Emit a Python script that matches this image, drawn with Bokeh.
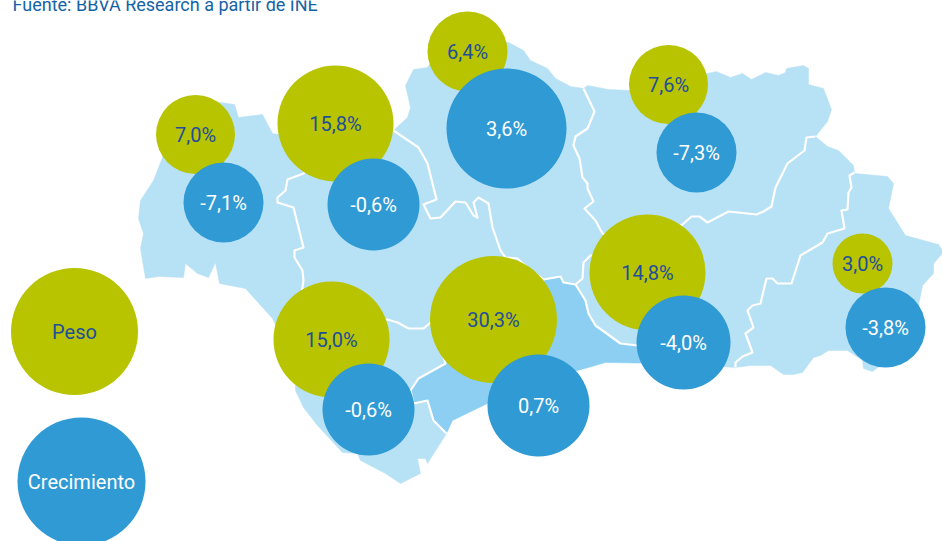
from bokeh.plotting import figure
from bokeh.models import Range1d
from bokeh.core.properties import value
from bokeh.embed import file_html
from bokeh.resources import INLINE

FONT = "Roboto"
SOURCE = "Fuente: BBVA Research a partir de INE"

# Bubble values
peso_labels = ["7,0%", "15,8%", "6,4%", "7,6%", "14,8%", "3,0%", "15,0%", "30,3%", "Peso"]
peso_x = [195, 335, 467, 668, 647, 862, 331, 493, 74]
peso_y = [134, 123, 51, 84, 272, 263, 339, 319, 331]
peso_r = [39.5, 58, 40, 39.5, 58, 30, 58, 63.5, 63.5]

crec_labels = ["-7,1%", "-0,6%", "3,6%", "-7,3%", "-4,0%", "-3,8%", "-0,6%", "0,7%", "Crecimiento"]
crec_x = [223, 373, 506, 696, 683, 885, 368, 538, 81]
crec_y = [202, 204, 128, 152, 342, 327, 409, 405, 481]
crec_r = [40, 46, 60, 40, 47, 40, 46, 51, 64]

# Shared borders between provinces
huelva_sevilla = [(312,120),(310,165),(303,173),(287,179),(285,190),(277,197),(277,202),(293,207),(303,247),(294,250),(294,257),(302,270),(303,280),(300,300),(295,345)]
sevilla_cordoba = [(393,130),(418,147),(427,163),(436,199),(423,204),(430,218),(440,217),(455,201),(465,202),(473,215),(477,217),(473,202),(478,197),(488,203),(492,227),(500,250),(505,257),(517,258),(530,270),(543,279),(560,276),(563,282),(575,284)]
sevilla_cadiz = [(330,325),(387,319),(397,322),(408,328),(423,328),(430,322),(440,345)]
cadiz_malaga = [(440,345),(445,363),(418,378),(410,390),(413,403),(427,400),(433,420),(446,433)]
cordoba_granada = [(575,284),(582,278),(583,262),(590,255),(610,250),(625,240)]
cordoba_jaen = [(583,88),(594,111),(587,128),(575,136),(573,145),(579,158),(582,177),(587,183),(587,188),(593,201),(584,208),(595,220),(602,233),(625,240)]
jaen_granada = [(625,240),(660,235),(682,224),(691,216),(699,216),(707,222),(728,211),(756,214),(763,211),(771,206),(775,187),(787,163),(804,150),(806,137),(815,136)]
granada_almeria = [(854,172),(849,175),(851,187),(848,192),(847,209),(841,210),(844,228),(827,233),(822,242),(800,255),(791,283),(777,283),(772,278),(766,278),(760,303),(752,305),(747,310),(753,327),(745,333),(752,352),(742,356),(735,362),(735,367)]
malaga_granada = [(575,284),(585,300),(588,313),(595,325),(620,343),(637,345),(660,348),(665,363)]

# Coasts and outer edges
huelva_outer = [(295,345),(282,340),(272,318),(245,288),(219,283),(215,262),(208,277),(197,273),(185,263),(183,277),(158,276),(145,278),(140,248),(143,233),(138,218),(140,200),(153,180),(162,157),(170,110),(220,102),(234,104),(238,117),(262,114),(272,133),(278,134),(312,120)]
sevilla_top = [(312,120),(393,130)]
sevilla_coast = [(295,345),(290,360),(330,325)]
cordoba_outer = [(393,130),(407,117),(410,107),(405,85),(413,69),(427,67),(450,30),(508,42),(523,50),(530,60),(547,68),(555,78),(570,86),(583,88)]
jaen_outer = [(583,88),(587,85),(608,89),(630,90),(707,73),(716,71),(730,77),(742,73),(751,79),(765,72),(778,75),(785,72),(786,68),(803,65),(808,68),(808,84),(823,88),(831,109),(827,121),(815,136)]
cadiz_coast = [(446,433),(427,463),(425,458),(417,458),(420,473),(400,483),(385,473),(360,460),(357,453),(342,452),(317,425),(303,407),(295,390),(295,345)]
malaga_coast = [(446,433),(452,420),(487,403),(540,390),(570,372),(588,367),(605,362),(665,363)]
granada_outer = [(815,136),(827,146),(838,150),(853,165),(854,172)]
granada_coast = [(735,367),(665,363)]
almeria_outer = [(854,172),(855,173),(887,176),(893,183),(888,208),(905,235),(938,244),(942,250),(942,253),(933,263),(933,273),(922,285),(917,310),(900,350),(872,371),(863,368),(862,360),(847,350),(828,350),(820,355),(813,357),(802,372),(793,374),(783,374),(770,365),(750,365),(735,367)]

huelva = huelva_sevilla + huelva_outer
sevilla = sevilla_top + sevilla_cordoba + [(470,345)] + sevilla_cadiz[::-1] + sevilla_coast[::-1] + huelva_sevilla[::-1]
cordoba = cordoba_outer + cordoba_jaen + cordoba_granada[::-1] + sevilla_cordoba[::-1]
jaen = jaen_outer + jaen_granada[::-1] + cordoba_jaen[::-1]
granada = cordoba_granada + jaen_granada + granada_outer + granada_almeria + granada_coast + malaga_granada[::-1]
almeria = almeria_outer + granada_almeria[::-1]
cadiz = sevilla_cadiz + cadiz_malaga + cadiz_coast + sevilla_coast
malaga = cadiz_malaga[::-1] + [(470,345)] + sevilla_cordoba[-4:] + malaga_granada + malaga_coast[::-1]

def xs(pts):
    return [q[0] for q in pts]

def ys(pts):
    return [q[1] for q in pts]

p = figure(width=942, height=541, output_backend="svg", toolbar_location=None,
           x_range=Range1d(0, 942), y_range=Range1d(541, 0), min_border=0,
           outline_line_color=None, background_fill_color="white", border_fill_color="white")
p.axis.visible = False
p.grid.visible = False

light = [huelva, sevilla, cordoba, jaen, granada, almeria, cadiz]
p.patches([xs(a) for a in light], [ys(a) for a in light], fill_color="#B7E1F5", line_color="#B7E1F5", line_width=0.5)
p.patch(xs(malaga), ys(malaga), fill_color="#8CCFF2", line_color="#8CCFF2", line_width=0.5)

borders = [huelva_sevilla[1:], sevilla_cordoba, sevilla_cadiz, cadiz_malaga, cordoba_granada, cordoba_jaen, jaen_granada, granada_almeria, malaga_granada]
p.multi_line([xs(b) for b in borders], [ys(b) for b in borders], line_color="white", line_width=2.2, line_join="round")

p.circle(peso_x, peso_y, radius=peso_r, fill_color="#B8C400", line_color=None)
p.circle(crec_x, crec_y, radius=crec_r, fill_color="#2F9AD4", line_color=None)

p.text(peso_x, peso_y, text=peso_labels, text_font=value(FONT), text_font_size="20px",
       text_color="#1F4E9C", text_align="center", text_baseline="middle")
p.text(crec_x, crec_y, text=crec_labels, text_font=value(FONT), text_font_size="20px",
       text_color="white", text_align="center", text_baseline="middle")
p.text([12], [4], text=[SOURCE], text_font=value(FONT), text_font_size="18px",
       text_color="#1464A5", text_align="left", text_baseline="alphabetic")

open("out.html", "w").write(file_html(p, INLINE))
